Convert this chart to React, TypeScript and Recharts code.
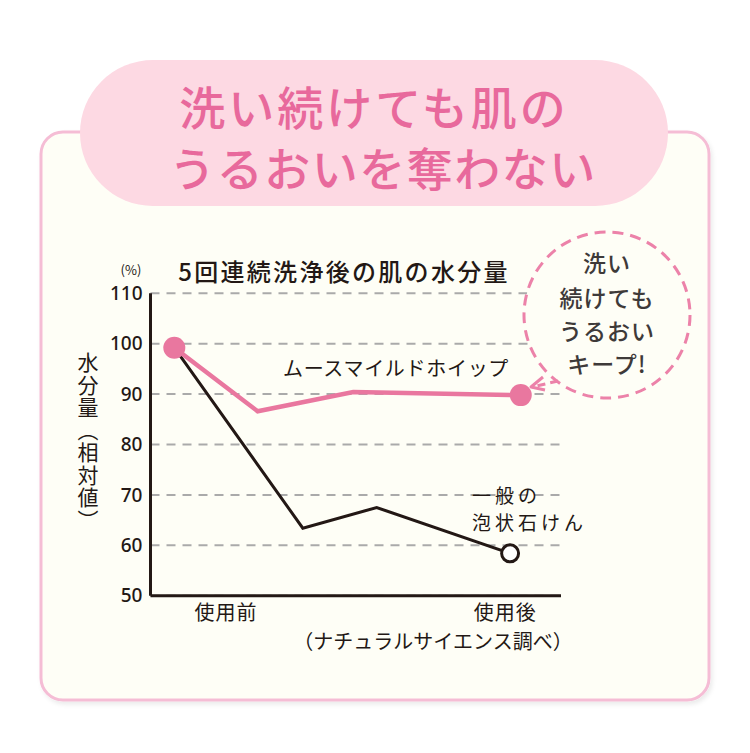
import React from 'react';
import { LineChart, Line, XAxis, YAxis, CartesianGrid } from 'recharts';

const yTicks = [50, 60, 70, 80, 90, 100, 110];
const xTickPositions = [18.4, 86.4];
const xTickLabels = ['使用前', '使用後'];
const mousseX = [5.8, 26.1, 49.4, 90.2];
const mousseValues = [99.2, 86.6, 90.4, 89.8];
const soapX = [5.8, 37.1, 55.1, 87.6];
const soapValues = [99.2, 63.4, 67.5, 58.4];

const mousseData = mousseX.map((x, i) => ({ x, v: mousseValues[i] }));
const soapData = soapX.map((x, i) => ({ x, v: soapValues[i] }));

const PINK = '#e9779f';
const DARK = '#231815';
const JP = '"Noto Sans CJK JP", "Noto Sans", sans-serif';

const pinkDot = (p: any) => {
  const { cx, cy, index } = p;
  if (index === 0 || index === mousseX.length - 1) {
    return <circle key={`pd${index}`} cx={cx} cy={cy} r={11} fill={PINK} />;
  }
  return <g key={`pd${index}`} />;
};

const soapDot = (p: any) => {
  const { cx, cy, index } = p;
  if (index === soapX.length - 1) {
    return <circle key={`sd${index}`} cx={cx} cy={cy} r={8.5} fill="#ffffff" stroke={DARK} strokeWidth={3} />;
  }
  return <g key={`sd${index}`} />;
};

export default function App() {
  return (
    <div style={{ position: 'absolute', left: 0, top: 0, width: 750, height: 753, background: '#ffffff', overflow: 'hidden' }}>
      <svg width={750} height={753} style={{ position: 'absolute', left: 0, top: 0 }}>
        <defs>
          <filter id="sh" x="-5%" y="-5%" width="110%" height="110%">
            <feDropShadow dx="2" dy="3" stdDeviation="2" floodColor="#000" floodOpacity="0.08" />
          </filter>
        </defs>
        <rect x={41} y={132} width={668} height={568} rx={22} fill="#fefef6" stroke="#f5bdd5" strokeWidth={3} filter="url(#sh)" />
        <rect x={80} y={60} width={588} height={146} rx={73} fill="#fdd9e3" />
        <text x={374} y={105} textAnchor="middle" dominantBaseline="central" fontFamily={JP} fontWeight={500} fontSize={46} letterSpacing={3} fill="#e8699c">洗い続けても肌の</text>
        <text x={383} y={166} textAnchor="middle" dominantBaseline="central" fontFamily={JP} fontWeight={500} fontSize={46} letterSpacing={1.5} fill="#e8699c">うるおいを奪わない</text>
      </svg>
      <div style={{ position: 'absolute', left: 0, top: 0 }}>
        <LineChart width={750} height={753} margin={{ top: 293.3, right: 189, bottom: 97.3, left: 90.5 }}>
          <CartesianGrid vertical={false} stroke="#aaaaaa" strokeWidth={2} strokeDasharray="9 7" />
          <XAxis
            type="number"
            dataKey="x"
            domain={[0, 100]}
            ticks={xTickPositions}
            tickFormatter={(v: number) => xTickLabels[xTickPositions.indexOf(v)]}
            allowDataOverflow
            height={60}
            tickLine={false}
            tickSize={0}
            tickMargin={10}
            axisLine={{ stroke: DARK, strokeWidth: 3 }}
            tick={{ fill: DARK, fontSize: 20, fontFamily: JP, letterSpacing: 1 }}
            interval={0}
          />
          <YAxis
            type="number"
            domain={[50, 110]}
            ticks={yTicks}
            width={60}
            allowDataOverflow
            tickLine={false}
            tickSize={0}
            tickMargin={8}
            axisLine={{ stroke: DARK, strokeWidth: 3 }}
            tick={{ fill: DARK, fontSize: 19, fontFamily: '"Noto Sans", sans-serif', fontWeight: 500 }}
            interval={0}
          />
          <Line data={soapData} dataKey="v" type="linear" stroke={DARK} strokeWidth={3} dot={soapDot} activeDot={false} isAnimationActive={false} />
          <Line data={mousseData} dataKey="v" type="linear" stroke={PINK} strokeWidth={4.5} dot={pinkDot} activeDot={false} isAnimationActive={false} />
        </LineChart>
      </div>
      <svg width={750} height={753} style={{ position: 'absolute', left: 0, top: 0 }}>
        <text x={131} y={269} textAnchor="middle" dominantBaseline="central" fontFamily={JP} fontSize={13} fill={DARK}>(%)</text>
        <text x={344} y={270} textAnchor="middle" dominantBaseline="central" fontFamily={JP} fontWeight={500} fontSize={24} letterSpacing={2.3} fill={DARK}>5回連続洗浄後の肌の水分量</text>
        <text x={396} y={367} textAnchor="middle" dominantBaseline="central" fontFamily={JP} fontSize={20} letterSpacing={0.7} fill={DARK}>ムースマイルドホイップ</text>
        <text x={433} y={640} textAnchor="middle" dominantBaseline="central" fontFamily={JP} fontSize={20} fill={DARK}>（ナチュラルサイエンス調べ）</text>
        <circle cx={607} cy={315} r={83} fill="#fefef6" stroke="#ec82a9" strokeWidth={3} strokeDasharray="11 7" />
        <path d="M 558 381 L 532 387" stroke="#ec82a9" strokeWidth={3} strokeDasharray="8 5" fill="none" />
        <path d="M 543 377 L 531 387 L 545 390" stroke="#ec82a9" strokeWidth={3} fill="none" strokeLinejoin="round" />
        <g fontFamily={JP} fontSize={23} fontWeight={500} fill="#3e3a39" textAnchor="middle" letterSpacing={1}>
          <text x={607} y={262} dominantBaseline="central">洗い</text>
          <text x={607} y={297} dominantBaseline="central">続けても</text>
          <text x={607} y={330} dominantBaseline="central">うるおい</text>
          <text x={607} y={363} dominantBaseline="central">キープ!</text>
        </g>
      </svg>
      <div
        style={{
          position: 'absolute',
          left: 472,
          top: 480.5,
          fontFamily: JP,
          fontSize: 19,
          letterSpacing: 4,
          lineHeight: '27.5px',
          color: DARK,
          whiteSpace: 'nowrap',
        }}
      >
        一般の
        <br />
        泡状石けん
      </div>
      <div
        style={{
          position: 'absolute',
          left: 76,
          top: 352,
          writingMode: 'vertical-rl',
          fontFamily: JP,
          fontSize: 21,
          letterSpacing: 1.5,
          lineHeight: '24px',
          color: DARK,
        }}
      >
        水分量（相対値）
      </div>
    </div>
  );
}
